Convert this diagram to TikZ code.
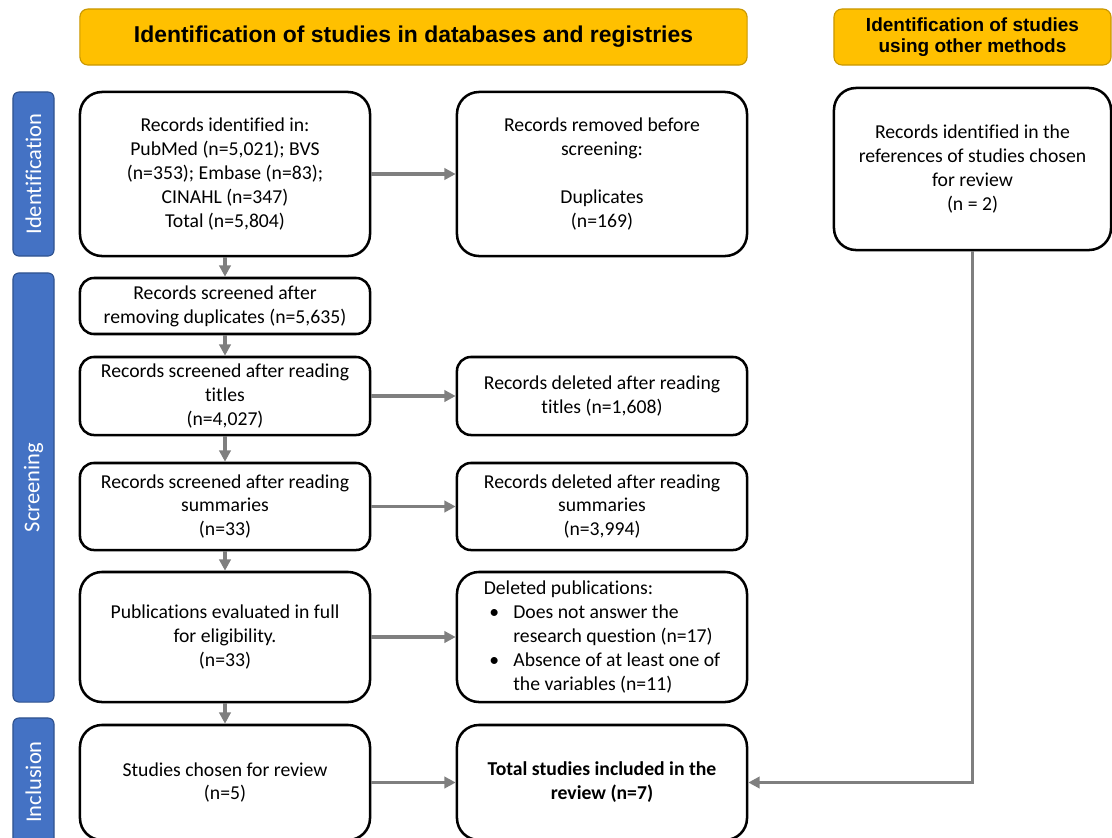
\documentclass[tikz,border=0pt]{standalone}
\usepackage{fontspec}
\setmainfont{Carlito}[RawFeature={-liga,-clig,-dlig}]
\newfontfamily\headfont{Liberation Sans}
\usetikzlibrary{arrows.meta}
\definecolor{amarillo}{HTML}{FFC000}
\definecolor{amarilloborde}{HTML}{C99700}
\definecolor{azul}{HTML}{4472C4}
\definecolor{azulborde}{HTML}{2F528F}
\definecolor{gris}{HTML}{7F7F7F}

\begin{document}
\begin{tikzpicture}[x=0.025cm, y=-0.025cm,
    caja/.style={draw, line width=1.8pt, fill=white, rounded corners=0.55cm, align=center,
      inner sep=0pt, minimum width=7.25cm, font=\fontsize{14}{17}\selectfont},
    cajachica/.style={caja, rounded corners=0.35cm},
    encabezado/.style={draw=amarilloborde, line width=0.8pt, fill=amarillo, rounded corners=0.2cm,
      align=center, minimum height=1.4cm, font=\headfont\bfseries},
    fase/.style={draw=azulborde, line width=0.8pt, fill=azul, rounded corners=0.15cm, rotate=90,
      minimum height=1.025cm, text=white, font=\fontsize{16}{19}\selectfont},
    flecha/.style={draw=gris, line width=2.4pt, -{Triangle[length=8pt, width=8pt]}}] % coordenadas en px
\useasboundingbox (0,0) rectangle (1112,837);
\clip (0,0) rectangle (1112,837);

\node[encabezado, minimum width=16.675cm, font=\headfont\bfseries\fontsize{16.3}{19}\selectfont] (bases) at (413.5,37)
    {Identification of studies in databases and registries};
\node[encabezado, minimum width=6.925cm, font=\headfont\bfseries\fontsize{13.5}{15}\selectfont] (otros) at (972.5,37)
    {Identification of studies\\using other methods};

\node[fase, minimum width=4.1cm] (fident) at (33.5,174) {Identification};
\node[fase, minimum width=10.725cm] (fscreen) at (33.5,487.5) {Screening};
\node[fase, minimum width=3.2cm] (fincl) at (33.5,782) {Inclusion};

\node[caja, minimum height=4.1cm] (ident) at (225,174)
    {Records identified in:\\PubMed (n=5,021); BVS\\(n=353); Embase (n=83);\\CINAHL (n=347)\\Total (n=5,804)};
\node[caja, minimum height=4.1cm] (dup) at (602,174)
    {Records removed before\\screening:\\[17pt]Duplicates\\(n=169)};
\node[caja, minimum width=6.925cm, minimum height=4.05cm] (refs) at (972.5,169)
    {Records identified in the\\references of studies chosen\\for review\\(n = 2)};

\node[cajachica, minimum height=1.4cm] (sindup) at (225,306)
    {Records screened after\\removing duplicates (n=5,635)};
\node[cajachica, minimum height=1.95cm] (titulos) at (225,396)
    {Records screened after reading\\titles\\(n=4,027)};
\node[cajachica, minimum height=1.95cm] (deltitulos) at (602,396)
    {Records deleted after reading\\titles (n=1,608)};
\node[cajachica, minimum height=2.175cm] (resumenes) at (225,506.5)
    {Records screened after reading\\summaries\\(n=33)};
\node[cajachica, minimum height=2.175cm] (delresumenes) at (602,506.5)
    {Records deleted after reading\\summaries\\(n=3,994)};

\node[caja, minimum height=3.25cm] (completos) at (225,637)
    {Publications evaluated in full\\for eligibility.\\(n=33)};
\node[caja, minimum height=3.25cm, align=left] (excluidos) at (602,637)
    {Deleted publications:\\
     \makebox[15pt][c]{\textbullet}\hspace{6pt}Does not answer the\\
     \hspace*{21pt}research question (n=17)\\
     \makebox[15pt][c]{\textbullet}\hspace{6pt}Absence of at least one of\\
     \hspace*{21pt}the variables (n=11)};

\node[caja, minimum height=2.875cm] (elegidos) at (225,782.5)
    {Studies chosen for review\\(n=5)};
\node[caja, minimum height=2.875cm, font=\fontsize{14}{17}\selectfont\bfseries] (total) at (602,782.5)
    {Total studies included in the\\review (n=7)};

\draw[flecha] (ident) -- (sindup);
\draw[flecha] (sindup) -- (titulos);
\draw[flecha] (titulos) -- (resumenes);
\draw[flecha] (resumenes) -- (completos);
\draw[flecha] (completos) -- (elegidos);
\draw[flecha] (ident) -- (dup);
\draw[flecha] (titulos) -- (deltitulos);
\draw[flecha] (resumenes) -- (delresumenes);
\draw[flecha] (completos) -- (excluidos);
\draw[flecha] (elegidos) -- (total);
\draw[flecha] (refs.south) |- (total.east);
\end{tikzpicture}
\end{document}
